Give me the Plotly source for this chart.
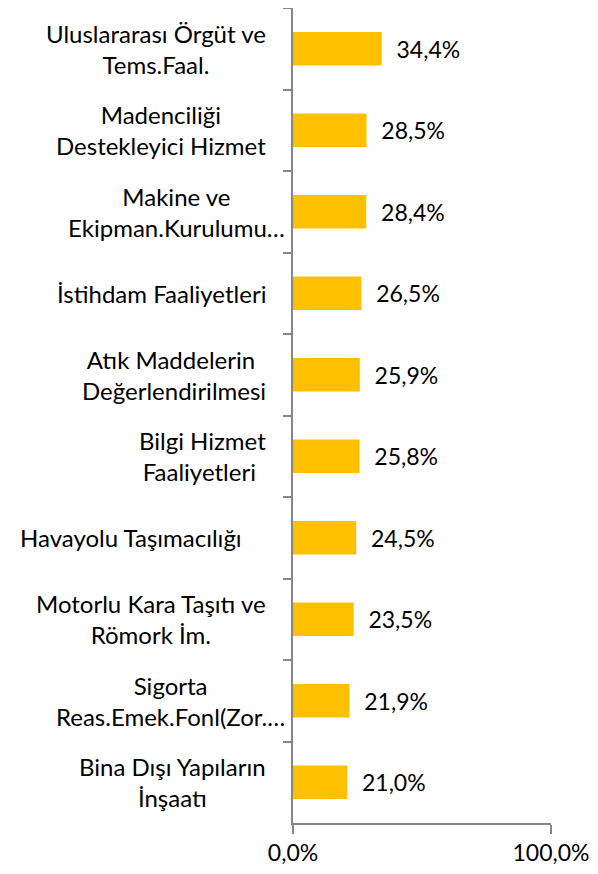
import plotly.graph_objects as go

# sectors and shares (%), top to bottom as in the chart
sectors = [
    "Uluslararası Örgüt ve<br>Tems.Faal.",
    "Madenciliği<br>Destekleyici Hizmet",
    "Makine ve<br>Ekipman.Kurulumu…",
    "İstihdam Faaliyetleri",
    "Atık Maddelerin\u00a0<br>Değerlendirilmesi",
    "Bilgi Hizmet<br>Faaliyetleri\u00a0",
    "Havayolu Taşımacılığı\u00a0\u00a0\u00a0\u00a0",
    "Motorlu Kara Taşıtı ve<br>Römork İm.",
    "Sigorta<br>Reas.Emek.Fonl(Zor.…",
    "Bina Dışı Yapıların<br>İnşaatı",
]
shares = [34.4, 28.5, 28.4, 26.5, 25.9, 25.8, 24.5, 23.5, 21.9, 21.0]
x_ticks = [0, 100]
x_ticktext = ["0,0%", "100,0%"]

FONT = "Lato"
labels = ["\u00a0\u00a0" + f"{v:.1f}".replace(".", ",") + "%" for v in shares]

fig = go.Figure(go.Bar(
    y=list(range(len(sectors))), x=shares, orientation="h",
    marker=dict(color="#FFC000", line=dict(width=0)),
    text=labels, textposition="outside", cliponaxis=False,
    textfont=dict(family=FONT, size=23, color="#000000"),
))

# category labels, centred text like the original
for i, s in enumerate(sectors):
    shift = -6 if s.endswith("…") else -25
    fig.add_annotation(x=0, xref="paper", y=i, yref="y", text=s,
                       xanchor="right", yanchor="middle", align="center",
                       xshift=shift, showarrow=False,
                       font=dict(family=FONT, size=24, color="#000000"))

# page body has an 8px margin, so the figure is a bit smaller than the window
fig.update_layout(
    width=590, height=866,
    margin=dict(l=285, r=47, t=0, b=51, autoexpand=False),
    paper_bgcolor="white", plot_bgcolor="white",
    showlegend=False, bargap=0.59,
    font=dict(family=FONT, size=23, color="#000000"),
    xaxis=dict(range=[0, 100], tickvals=x_ticks, ticktext=x_ticktext,
               showgrid=False, zeroline=False,
               showline=True, linecolor="#868686", linewidth=1.5,
               ticks="outside", ticklen=9, tickcolor="#868686",
               tickwidth=1.5, tickfont=dict(size=23)),
    yaxis=dict(type="category", showticklabels=False,
               showgrid=False, zeroline=False, showline=True,
               linecolor="#868686", linewidth=1.5, ticks="outside",
               tickson="boundaries", ticklen=8, tickcolor="#868686",
               tickwidth=1.5, range=[9.5, -0.5]),
)

fig.write_html("out.html")
